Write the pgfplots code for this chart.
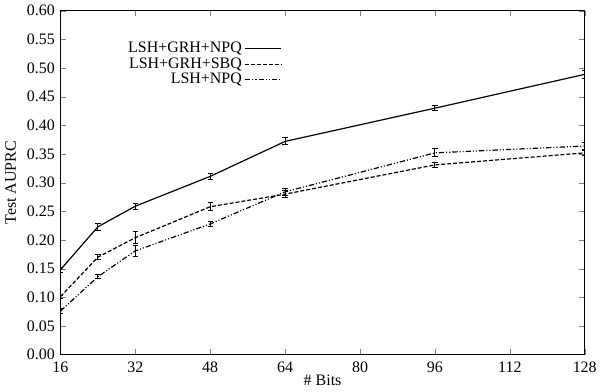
\documentclass[border=0pt]{standalone}
\usepackage{fontspec}
\setmainfont{Liberation Serif}
\usepackage{pgfplots}
\pgfplotsset{compat=1.18}
\begin{document}
\fontsize{12}{14}\selectfont
\begin{tikzpicture}
\begin{axis}[
  scale only axis,
  width=394.5pt, height=258.75pt,
  xmin=16, xmax=128, ymin=0, ymax=0.6,
  xtick={16,32,48,64,80,96,112,128},
  ytick={0,0.05,...,0.61},
  tick align=inside,
  tick pos=both,
  major tick length=4pt,
  axis line style={line width=0.9pt},
  xticklabel={\rmfamily\pgfmathprintnumber[assume math mode=true]{\tick}},
  yticklabel={\rmfamily\pgfmathprintnumber[fixed,fixed zerofill,precision=2,assume math mode=true]{\tick}},
  xticklabel style={yshift=-1pt},
  xlabel={\# Bits},
  ylabel={Test AUPRC},
  xlabel style={yshift=6pt},
  legend style={draw=none, fill=none, at={(0.43,0.925)}, anchor=north east, row sep=-2pt},
  legend cell align=right,
  legend plot pos=right,
  legend image code/.code={\draw[#1] (0.15cm,0cm) -- (1.1cm,0cm);},
]
\addplot[black, line width=0.9pt, solid, mark=none, error bars/.cd, y dir=both, y explicit,
  error bar style={line width=0.7pt, solid}, error mark options={rotate=90, mark size=2pt, line width=0.7pt, solid}] coordinates {
 (16,0.148) +- (0,0.004)
 (24,0.223) +- (0,0.006)
 (32,0.259) +- (0,0.005)
 (48,0.311) +- (0,0.005)
 (64,0.372) +- (0,0.006)
 (96,0.430) +- (0,0.004)
 (128,0.489) +- (0,0.007)
};
\addlegendentry{LSH+GRH+NPQ}
\addplot[black, line width=0.9pt, dash pattern=on 3pt off 1.5pt, mark=none, error bars/.cd, y dir=both, y explicit,
  error bar style={line width=0.7pt, solid}, error mark options={rotate=90, mark size=2pt, line width=0.7pt, solid}] coordinates {
 (16,0.101) +- (0,0.003)
 (24,0.170) +- (0,0.004)
 (32,0.204) +- (0,0.010)
 (48,0.258) +- (0,0.007)
 (64,0.280) +- (0,0.006)
 (96,0.331) +- (0,0.004)
 (128,0.352) +- (0,0.004)
};
\addlegendentry{LSH+GRH+SBQ}
\addplot[black, line width=0.9pt, dash pattern=on 4pt off 1.5pt on 0.8pt off 1.5pt on 0.8pt off 1.5pt, mark=none, error bars/.cd, y dir=both, y explicit,
  error bar style={line width=0.7pt, solid}, error mark options={rotate=90, mark size=2pt, line width=0.7pt, solid}] coordinates {
 (16,0.076) +- (0,0.004)
 (24,0.136) +- (0,0.004)
 (32,0.181) +- (0,0.009)
 (48,0.228) +- (0,0.004)
 (64,0.284) +- (0,0.006)
 (96,0.352) +- (0,0.007)
 (128,0.364) +- (0,0.006)
};
\addlegendentry{LSH+NPQ}
\end{axis}
\end{tikzpicture}
\end{document}
